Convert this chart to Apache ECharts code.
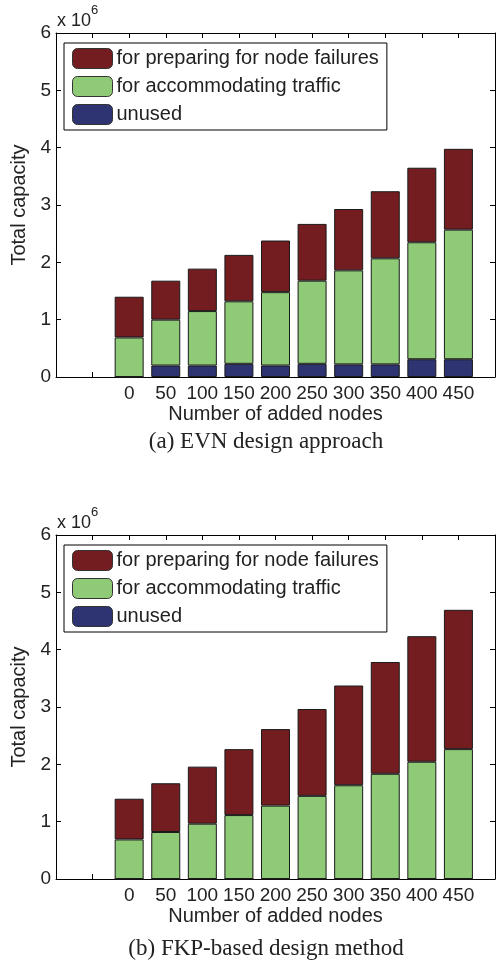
<!DOCTYPE html>
<html><head><meta charset="utf-8">
<script src="https://cdn.jsdelivr.net/npm/echarts@6/dist/echarts.min.js"></script>
<style>html,body{margin:0;padding:0;background:#fff}#c{width:500px;height:964px}</style>
</head><body><div id="c"></div>
<script>
// Number of added nodes
var nodes = [0, 50, 100, 150, 200, 250, 300, 350, 400, 450];
var xRange = [-100, 500]; // axis limits, tick step 50
var seriesNames = ['for preparing for node failures', 'for accommodating traffic', 'unused'];
var yTicks = [0, 1, 2, 3, 4, 5, 6]; // x 10^6

// (a) EVN design approach (units of 10^6)
var evnUnused   = [0,    0.20, 0.20, 0.23, 0.20, 0.23, 0.22, 0.22, 0.31, 0.31];
var evnTraffic  = [0.69, 0.80, 0.95, 1.09, 1.28, 1.45, 1.64, 1.85, 2.04, 2.26];
var evnFailures = [0.71, 0.68, 0.74, 0.81, 0.90, 0.99, 1.07, 1.17, 1.30, 1.41];

// (b) FKP-based design method (units of 10^6)
var fkpUnused   = [0, 0, 0, 0, 0, 0, 0, 0, 0, 0];
var fkpTraffic  = [0.69, 0.82, 0.965, 1.115, 1.28, 1.45, 1.635, 1.835, 2.045, 2.265];
var fkpFailures = [0.71, 0.85, 0.995, 1.15, 1.335, 1.515, 1.74, 1.95, 2.19, 2.43];

var colors = {failures: '#731d20', traffic: '#8fcb76', unused: '#2d3471'};
var textColor = '#222';
var font = 'Liberation Sans';

// category slots every 50 across the axis limits
var cats = [];
for (var v = xRange[0]; v <= xRange[1]; v += 50) cats.push(String(v));
function slotData(vals) {
  return cats.map(function (c) {
    var i = nodes.indexOf(Number(c));
    return i >= 0 ? vals[i] : null;
  });
}

var grids = [
  {left: 56, top: 33, width: 439, height: 344},
  {left: 56, top: 535, width: 439, height: 344}
];

var xAxes = [], yAxes = [], series = [], legends = [];
[0, 1].forEach(function (g) {
  var base = {
    type: 'category', gridIndex: g, data: cats, boundaryGap: false,
    axisLine: {show: true, onZero: false, lineStyle: {color: '#000', width: 1}},
    axisTick: {show: true, inside: true, length: 5, interval: 0, lineStyle: {color: '#000'}},
    splitLine: {show: false}
  };
  xAxes.push(Object.assign({}, base, {
    position: 'bottom',
    name: 'Number of added nodes', nameLocation: 'middle', nameGap: 27,
    nameTextStyle: {fontFamily: font, fontSize: 20, color: textColor},
    axisLabel: {
      margin: 7, interval: 0, fontFamily: font, fontSize: 19, color: textColor,
      formatter: function (c) { return nodes.indexOf(Number(c)) >= 0 ? c : ''; }
    }
  }));
  xAxes.push(Object.assign({}, base, {position: 'top', axisLabel: {show: false}}));
  var ybase = {
    type: 'value', gridIndex: g, min: yTicks[0], max: yTicks[yTicks.length - 1], interval: 1,
    axisLine: {show: true, onZero: false, lineStyle: {color: '#000', width: 1}},
    axisTick: {show: true, inside: true, length: 5, lineStyle: {color: '#000'}},
    splitLine: {show: false}
  };
  yAxes.push(Object.assign({}, ybase, {
    position: 'left',
    name: 'Total capacity', nameLocation: 'middle', nameGap: 18,
    nameTextStyle: {fontFamily: font, fontSize: 20, color: textColor},
    axisLabel: {margin: 5, fontFamily: font, fontSize: 19, color: textColor}
  }));
  yAxes.push(Object.assign({}, ybase, {position: 'right', axisLabel: {show: false}}));

  var data = g === 0 ? [evnUnused, evnTraffic, evnFailures] : [fkpUnused, fkpTraffic, fkpFailures];
  var keys = ['unused', 'traffic', 'failures'];
  var names = [seriesNames[2], seriesNames[1], seriesNames[0]];
  keys.forEach(function (k, i) {
    series.push({
      type: 'bar', name: names[i], stack: 's' + g,
      xAxisIndex: g * 2, yAxisIndex: g * 2,
      barWidth: 29,
      itemStyle: {color: colors[k], borderColor: '#1a1a1a', borderWidth: 1},
      data: slotData(data[i])
    });
  });

  legends.push({
    data: seriesNames,
    orient: 'vertical',
    left: 64, top: grids[g].top + 10,
    width: 323,
    itemWidth: 40, itemHeight: 20, itemGap: 7,
    padding: [5, 8, 5, 8],
    borderColor: '#000', borderWidth: 1, backgroundColor: '#fff',
    selectedMode: false,
    textStyle: {fontFamily: font, fontSize: 20, color: textColor, padding: [0, 0, 0, -1]},
    itemStyle: {borderColor: '#333', borderWidth: 1}
  });
});

var chart = echarts.init(document.getElementById('c'), null, {renderer: 'canvas'});
chart.setOption({
  backgroundColor: '#fff',
  animation: false,
  grid: grids,
  xAxis: xAxes,
  yAxis: yAxes,
  legend: legends,
  series: series,
  graphic: [
    {type: 'text', left: 57, top: 4, style: {rich: {a: {fontFamily: font, fontSize: 18, fill: textColor, padding: [8, 0, 0, 0]}, s: {fontFamily: font, fontSize: 13, fill: textColor, verticalAlign: 'top'}}, text: '{a|x 10}{s|6}'}},
    {type: 'text', left: 57, top: 506, style: {rich: {a: {fontFamily: font, fontSize: 18, fill: textColor, padding: [8, 0, 0, 0]}, s: {fontFamily: font, fontSize: 13, fill: textColor, verticalAlign: 'top'}}, text: '{a|x 10}{s|6}'}},
    {type: 'text', x: 266, y: 442, style: {text: '(a) EVN design approach', fontFamily: 'Liberation Serif', fontSize: 23, fill: textColor, align: 'center', verticalAlign: 'middle'}},
    {type: 'text', x: 266, y: 949, style: {text: '(b) FKP-based design method', fontFamily: 'Liberation Serif', fontSize: 23, fill: textColor, align: 'center', verticalAlign: 'middle'}}
  ]
});
</script>
</body></html>
